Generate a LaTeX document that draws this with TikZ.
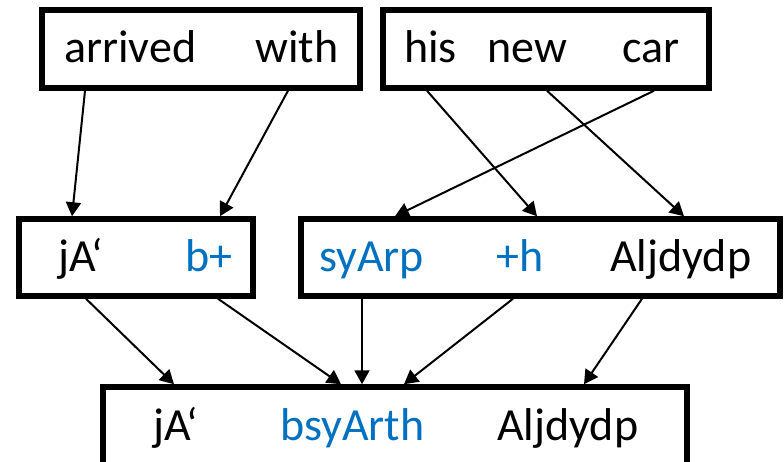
\documentclass[tikz,border=0pt]{standalone}
\usepackage{fontspec}
\setmainfont{Carlito}
\usetikzlibrary{arrows.meta}
\definecolor{wordblue}{HTML}{0070C0}
\begin{document}
\begin{tikzpicture}[x=1pt,y=-1pt,
  box/.style={draw, rectangle, line width=5.5pt, inner sep=0pt},
  word/.style={anchor=base west, inner sep=0pt, font=\fontsize{46}{52}\selectfont},
  bw/.style={word, text=wordblue},
  arr/.style={line width=2pt, -{Triangle[length=14pt,width=15pt]}}]
\useasboundingbox (0,0) rectangle (784,462);
\clip (0,0) rectangle (784,462);
% boxes
\node[box, minimum width=318pt, minimum height=78pt] (tl) at (201,49) {};
\node[box, minimum width=326pt, minimum height=78pt] (tr) at (546,49) {};
\node[box, minimum width=234pt, minimum height=77pt] (ml) at (136,257.5) {};
\node[box, minimum width=479pt, minimum height=77pt] (mr) at (540.5,257.5) {};
\node[box, minimum width=584pt, minimum height=110pt] (bt) at (395,442) {};
% words
\node[word] (w1) at (64,63) {arrived};
\node[word] (w2) at (255,63) {with};
\node[word] (w3) at (404,63) {his};
\node[word] (w4) at (487,63) {new};
\node[word] (w5) at (622,63) {car};
\node[word] (m1) at (58,272) {jA‘};
\node[bw] (m2) at (185,272) {b+};
\node[bw] (m3) at (319,272) {syArp};
\node[bw] (m4) at (496,272) {+h};
\node[word] (m5) at (610,272) {Aljdydp};
\node[word] (b1) at (153,440) {jA‘};
\node[bw] (b2) at (280,440) {bsyArth};
\node[word] (b3) at (497,440) {Aljdydp};
% connectors
\draw[arr] (tl.south -| 85,0) -- (ml.north -| 72,0);
\draw[arr] (tl.south -| 288,0) -- (ml.north -| 220,0);
\draw[arr] (tr.south -| 427,0) -- (mr.north -| 537,0);
\draw[arr] (tr.south -| 547,0) -- (mr.north -| 684,0);
\draw[arr] (tr.south -| 654,0) -- (mr.north -| 395,0);
\draw[arr] (ml.south -| 86,0) -- (bt.north -| 174,0);
\draw[arr] (ml.south -| 218,0) -- (bt.north -| 341,0);
\draw[arr] (mr.south -| 362,0) -- (bt.north -| 362,0);
\draw[arr] (mr.south -| 513,0) -- (bt.north -| 404,0);
\draw[arr] (mr.south -| 642,0) -- (bt.north -| 584,0);
\end{tikzpicture}
\end{document}
